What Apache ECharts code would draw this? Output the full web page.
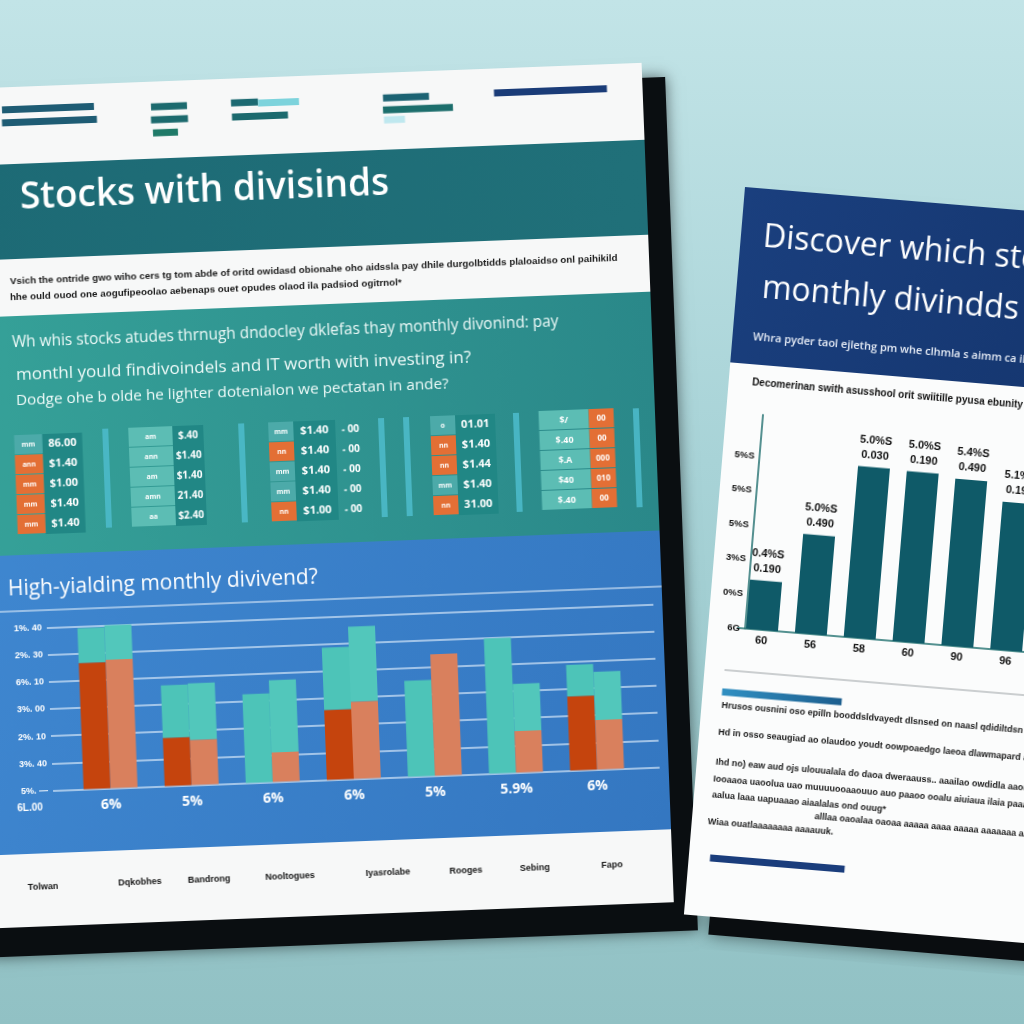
<!DOCTYPE html>
<html><head><meta charset="utf-8">
<script src="https://cdn.jsdelivr.net/npm/echarts@6/dist/echarts.min.js"></script>
<style>
html,body{margin:0;padding:0;width:1024px;height:1024px;overflow:hidden;}
body{background:linear-gradient(180deg,#c2e4e7 0%,#a8d3d7 45%,#91c1c4 100%);position:relative;}
#leftDoc{position:absolute;left:-40px;top:0;width:760px;height:1000px;transform-origin:40px 790px;transform:rotate(-2.2deg);}
#rightDoc{position:absolute;left:705px;top:150px;width:420px;height:800px;transform-origin:40px 37px;transform:rotate(4.8deg);}
</style></head><body>
<div id="leftDoc"></div><div id="rightDoc"></div>
<script>
// ---------- data: left document (blue panel chart) ----------
const blueCats = ['6%', '5%', '6%', '6%', '5%', '5.9%', '6%'];
const darkOrange = [4.65, 1.78, 0, 2.58, 0, 0, 2.73];
const darkTeal = [1.28, 1.93, 3.27, 2.29, 3.53, 4.98, 1.16];
const lightOrange = [4.73, 1.67, 1.09, 2.84, 4.47, 1.53, 1.82];
const lightTeal = [1.27, 2.08, 2.66, 2.76, 0, 1.74, 1.78];
const blueYTicks = ['5%. \u2014', '3%. 40', '2%. 10', '3%. 00', '6%. 10', '2%. 30', '1%. 40'];
const footerLabels = ['Tolwan', 'Dqkobhes', 'Bandrong', 'Nooltogues', 'Iyasrolabe', 'Rooges', 'Sebing', 'Fapo'];

// ---------- data: right document chart ----------
const rightCats = ['60', '56', '58', '60', '90', '96'];
const rightValues = [1.42, 2.87, 4.96, 4.93, 4.83, 4.28];
const rightTopLabels = ['0.4%S', '5.0%S', '5.0%S', '5.0%S', '5.4%S', '5.1%S'];
const rightBottomLabels = ['0.190', '0.490', '0.030', '0.190', '0.490', '0.190'];
const rightYTicks = ['6G', '0%S', '3%S', '5%S', '5%S', '5%S'];

// ---------- small tables in the teal section ----------
const card1Cells = ['t','o','o','o','o'], card1Keys = ['mm','ann','mm','mm','mm'], card1Vals = ['86.00','$1.40','$1.00','$1.40','$1.40'];
const card2Cells = ['l','l','l','l','l'], card2Keys = ['am','ann','am','amn','aa'], card2Vals = ['$.40','$1.40','$1.40','21.40','$2.40'];
const card3Cells = ['t','o','t','t','o'], card3Keys = ['mm','nn','mm','mm','nn'], card3Vals = ['$1.40','$1.40','$1.40','$1.40','$1.00'], card3Extra = ['- 00','- 00','- 00','- 00','- 00'];
const card4Cells = ['t','o','o','t','o'], card4Keys = ['o','nn','nn','mm','nn'], card4Vals = ['01.01','$1.40','$1.44','$1.40','31.00'];
const card5Keys = ['$/','$.40','$.A','$40','$.40'], card5Vals = ['00','00','000','010','00'];

const FONT = '"Open Sans", "Noto Sans", sans-serif';
const ARIAL = '"Liberation Sans", Arial, sans-serif';

function makeP(ox, oy, deg, divLeft, divTop) {
  const a = deg * Math.PI / 180, c = Math.cos(a), s = Math.sin(a);
  return (ix, iy) => { const x = ix - ox, y = iy - oy; return [ox - divLeft + x * c + y * s, oy - divTop - x * s + y * c]; };
}
function rect(x, y, w, h, fill, z, extra) {
  return { type: 'rect', silent: true, z: z || 1, shape: { x: x, y: y, width: w, height: h }, style: Object.assign({ fill: fill }, extra || {}) };
}
function text(pt, str, font, fill, align, z) {
  return { type: 'text', silent: true, z: z || 8, style: { x: pt[0], y: pt[1], text: str, font: font, fill: fill,
    textAlign: align || 'left', textVerticalAlign: 'middle', align: align || 'left', verticalAlign: 'middle' } };
}
function lin(c0, c1, x2, y2) {
  return new echarts.graphic.LinearGradient(0, 0, x2 === undefined ? 1 : x2, y2 === undefined ? 0 : y2, [{ offset: 0, color: c0 }, { offset: 1, color: c1 }]);
}

// ================= LEFT DOCUMENT =================
const P = makeP(0, 790, -2.2, -40, 0);
const OX = 40;
const lg = [];
lg.push(rect(-17 + OX, 103, 709, 854, '#0a0e11', 1, { shadowBlur: 14, shadowColor: 'rgba(0,0,0,0.55)' }));
lg.push(rect(-40 + OX, 88, 709, 840, '#f7f8f8', 2));
lg.push(rect(-40 + OX, 165, 709, 95, lin('#1d6a75', '#207079'), 3));
lg.push(rect(-40 + OX, 317, 709, 239, lin('#36a299', '#2a8889'), 3));
lg.push(rect(-40 + OX, 556, 709, 299, lin('#3f87d0', '#3477c1', 1, 1), 3));

const dashes = [[2,110,92,'#1e5c74'],[2,123,95,'#1e5c74'],[151,107,36,'#1c6a6e'],[151,120,37,'#1c6a6e'],[153,133,25,'#1f7a68'],
  [231,103,27,'#1c6a72'],[258,103,41,'#7dd3dc'],[232,117,56,'#1c6a6e'],[383,98,46,'#1c6373'],[383,110,70,'#1c6e6c'],
  [384,120,21,'#bfe8ef'],[494,93,113,'#1a3c78']];
dashes.forEach(d => { const p = P(d[0], d[1]); lg.push(rect(p[0], p[1] - 3.5, d[2], 7, d[3], 4)); });

lg.push(text(P(20, 198), 'Stocks with divisinds', '600 37px ' + FONT, '#ffffff'));
lg.push(text(P(10, 282), 'Vsich the ontride gwo wiho cers tg tom abde of oritd owidasd obionahe oho aidssla pay dhile durgolbtidds plaloaidso onl paihikild', 'bold 9.8px ' + ARIAL, '#1b1b1b'));
lg.push(text(P(10, 298), 'hhe ould ouod one aogufipeoolao aebenaps ouet opudes olaod ila padsiod ogitrnol*', 'bold 9.8px ' + ARIAL, '#1b1b1b'));
lg.push(text(P(12, 343), 'Wh whis stocks atudes thrnugh dndocley dklefas thay monthly divonind: pay', '500 15.4px ' + FONT, '#eefaf8'));
lg.push(text(P(16, 375), 'monthl yould findivoindels and IT worth with investing in?', '500 17px ' + FONT, '#eefaf8'));
lg.push(text(P(16, 401), 'Dodge ohe b olde he lighter dotenialon we pectatan in ande?', '500 15.3px ' + FONT, '#eefaf8'));

const cellColor = { t: '#4caaa9', o: '#e36f35', l: '#5cbdb4', d: '#218785' };
const cards = [
  { x: 27.6, y: 436, cols: [{ w: 28, cells: card1Cells, txt: card1Keys, fs: 7 }, { w: 40, bg: 'd', txt: card1Vals, fs: 11 }] },
  { x: 142, y: 433, cols: [{ w: 44, cells: card2Cells, txt: card2Keys, fs: 7 }, { w: 31, bg: 'd', txt: card2Vals, fs: 10 }] },
  { x: 282, y: 433, cols: [{ w: 25, cells: card3Cells, txt: card3Keys, fs: 7 }, { w: 42, bg: 'd', txt: card3Vals, fs: 11 }, { w: 30, txt: card3Extra, fs: 10 }] },
  { x: 444, y: 433, cols: [{ w: 25, cells: card4Cells, txt: card4Keys, fs: 7 }, { w: 40, bg: 'd', txt: card4Vals, fs: 11 }] },
  { x: 552.6, y: 432, cols: [{ w: 50, cells: ['l','l','l','l','l'], txt: card5Keys, fs: 9 }, { w: 25, cells: ['o','o','o','o','o'], txt: card5Vals, fs: 8 }] }
];
cards.forEach(cd => {
  let cx = cd.x + OX;
  cd.cols.forEach(col => {
    if (col.bg) lg.push(rect(cx, cd.y, col.w, 100, cellColor[col.bg], 4));
    col.txt.forEach((t, i) => {
      const ry = cd.y + i * 20;
      if (col.cells) lg.push(rect(cx, ry, col.w, 19, cellColor[col.cells[i]], 5));
      lg.push(text([cx + col.w / 2, ry + 10], t, 'bold ' + col.fs + 'px ' + FONT, '#ffffff', 'center', 6));
    });
    cx += col.w;
  });
});
[116, 252, 392, 417, 527, 647].forEach(x => lg.push(rect(x + OX, 433, 6, 99, 'rgba(78,188,205,0.85)', 4)));

lg.push({ type: 'line', silent: true, z: 4, shape: { x1: -40 + OX, y1: 612, x2: 669 + OX, y2: 612 }, style: { stroke: 'rgba(225,238,250,0.75)', lineWidth: 1.5 } });
lg.push(text(P(8, 590), 'High-yialding monthly divivend?', '500 21px ' + FONT, '#ffffff'));
lg.push(text(P(30, 808), '6L.00', 'bold 10px ' + ARIAL, '#ffffff', 'center'));
const footerPos = [[43,887],[140,882],[209,880],[290,876],[388,873],[466,871],[535,868],[612,865]];
footerLabels.forEach((t, i) => lg.push(text(P(footerPos[i][0], footerPos[i][1]), t, 'bold 9px ' + ARIAL, '#141414', 'center')));

const leftChart = echarts.init(document.getElementById('leftDoc'));
leftChart.setOption({
  animation: false,
  backgroundColor: 'transparent',
  graphic: { elements: lg },
  grid: [
    { left: 53 + OX, top: 629.5, width: 607, height: 163 },
    { left: 70 + OX, top: 629.5, width: 568, height: 163 }
  ],
  xAxis: [
    { gridIndex: 0, type: 'value', show: false, min: 0, max: 1 },
    { gridIndex: 1, type: 'category', data: blueCats, z: 7, axisLine: { show: false }, axisTick: { show: false },
      axisLabel: { color: '#ffffff', fontWeight: 'bold', fontSize: 14, margin: 10, fontFamily: 'Open Sans' } }
  ],
  yAxis: [
    { gridIndex: 0, type: 'value', min: 0, max: 6, interval: 1, z: 5, axisLine: { show: false }, axisTick: { show: false },
      splitLine: { lineStyle: { color: 'rgba(222,236,250,0.85)', width: 1.5 } },
      axisLabel: { formatter: v => blueYTicks[Math.round(v)] || '', color: '#ffffff', fontWeight: 'bold', fontSize: 9, margin: 5, fontFamily: 'Liberation Sans' } },
    { gridIndex: 1, type: 'value', min: 0, max: 6, interval: 1, show: false }
  ],
  series: [
    { type: 'bar', name: 'A base', xAxisIndex: 1, yAxisIndex: 1, stack: 'A', data: darkOrange, barWidth: 27, barGap: '0%', z: 6, itemStyle: { color: '#c5440d' } },
    { type: 'bar', name: 'A top', xAxisIndex: 1, yAxisIndex: 1, stack: 'A', data: darkTeal, barWidth: 27, barGap: '0%', z: 6, itemStyle: { color: '#4dc4b8' } },
    { type: 'bar', name: 'B base', xAxisIndex: 1, yAxisIndex: 1, stack: 'B', data: lightOrange, barWidth: 27, barGap: '0%', z: 6, itemStyle: { color: '#d9805d' } },
    { type: 'bar', name: 'B top', xAxisIndex: 1, yAxisIndex: 1, stack: 'B', data: lightTeal, barWidth: 27, barGap: '0%', z: 6, itemStyle: { color: '#52c7bb' } }
  ]
});

// ================= RIGHT DOCUMENT =================
const Q = makeP(745, 187, 4.8, 705, 150);
const RX = 40, RY = 37;
const rg = [];
rg.push(rect(RX + 26, RY + 18, 360, 730, '#0a0d10', 1, { shadowBlur: 16, shadowColor: 'rgba(0,0,0,0.5)' }));
rg.push(rect(RX, RY, 360, 730, '#fbfcfc', 2));
rg.push(rect(RX, RY, 360, 176, lin('#1a3f7e', '#15366f', 1, 1), 3));
rg.push(text(Q(763, 238), 'Discover which stocks pay', '500 32px ' + FONT, '#ffffff'));
rg.push(text(Q(762, 289), 'monthly divindds', '500 32px ' + FONT, '#ffffff'));
rg.push(text(Q(753, 337), 'Whra pyder taol ejlethg pm whe clhmla s aimm ca ile taoe', '600 11px ' + FONT, '#e6ecf6'));
rg.push(text(Q(752, 383), 'Decomerinan swith asusshool orit swiitille pyusa ebunity cutmoa', 'bold 10px ' + ARIAL, '#111111'));
rg.push({ type: 'line', silent: true, z: 4, shape: { x1: RX + 20, y1: RY + 483, x2: RX + 360, y2: RY + 483 }, style: { stroke: '#9aa0a3', lineWidth: 1 } });
rg.push(rect(RX + 19.4, RY + 501.5, 120, 7, lin('#3190c2', '#1c5e8e'), 4));
const paras = [[20, 519, 'Hrusos ousnini oso epilln booddsldvayedt dlsnsed on naasl qdidiltdsn laesdsbd ouvrjdi ouvr'],
  [19, 546, 'Hd in osso seaugiad ao olaudoo youdt oowpoaedgo laeoa dlawmapard aoaeai... /aqr'],
  [19, 576, 'Ihd no) eaw aud ojs ulouualala do daoa dweraauss.. aaailao owdidla aaoun do duwa oao'],
  [18, 593, 'Iooaaoa uaoolua uao muuuuooaaouuo auo paaoo ooalu aiuiaua ilaia paaaaao aaaoa'],
  [18, 609, 'aalua laaa uapuaaao aiaalalas ond ouug*'],
  [122, 622, 'alllaa oaoalaa oaoaa aaaaa aaaa aaaaa aaaaaaa aaaaa aaaa'],
  [16, 636, 'Wiaa ouatlaaaaaaaa aaaauuk.']];
paras.forEach(p => rg.push(text([RX + p[0], RY + p[1]], p[2], 'bold 9px ' + ARIAL, '#1a1a1a')));
rg.push(rect(RX + 21.3, RY + 668, 135, 7, '#1a3d7c', 4));

const rightChart = echarts.init(document.getElementById('rightDoc'));
rightChart.setOption({
  animation: false,
  backgroundColor: 'transparent',
  graphic: { elements: rg },
  grid: { left: RX + 29.5, top: RY + 225.5, width: 294, height: 214.5 },
  xAxis: { type: 'category', data: rightCats, z: 5, axisLine: { lineStyle: { color: '#1c6d6c', width: 1.5 } }, axisTick: { show: false },
    axisLabel: { color: '#111111', fontWeight: 'bold', fontSize: 11, margin: 5, fontFamily: 'Liberation Sans' } },
  yAxis: { type: 'value', min: 0, max: 6.2, interval: 1, offset: -7.5, z: 5,
    axisLine: { show: true, lineStyle: { color: '#1c6d6c', width: 1.5 } }, axisTick: { show: false }, splitLine: { show: false },
    axisLabel: { formatter: v => rightYTicks[Math.round(v)] || '', showMaxLabel: false, color: '#111111', fontWeight: 'bold', fontSize: 9.5, margin: 5, fontFamily: 'Liberation Sans' } },
  series: [{ type: 'bar', data: rightValues, barWidth: 32, z: 6, itemStyle: { color: '#0f5a68' },
    label: { show: true, position: 'top', distance: 4, formatter: p => rightTopLabels[p.dataIndex] + '\n' + rightBottomLabels[p.dataIndex],
      fontSize: 11, fontWeight: 'bold', color: '#111111', lineHeight: 15, fontFamily: 'Liberation Sans' } }]
});
</script></body></html>
